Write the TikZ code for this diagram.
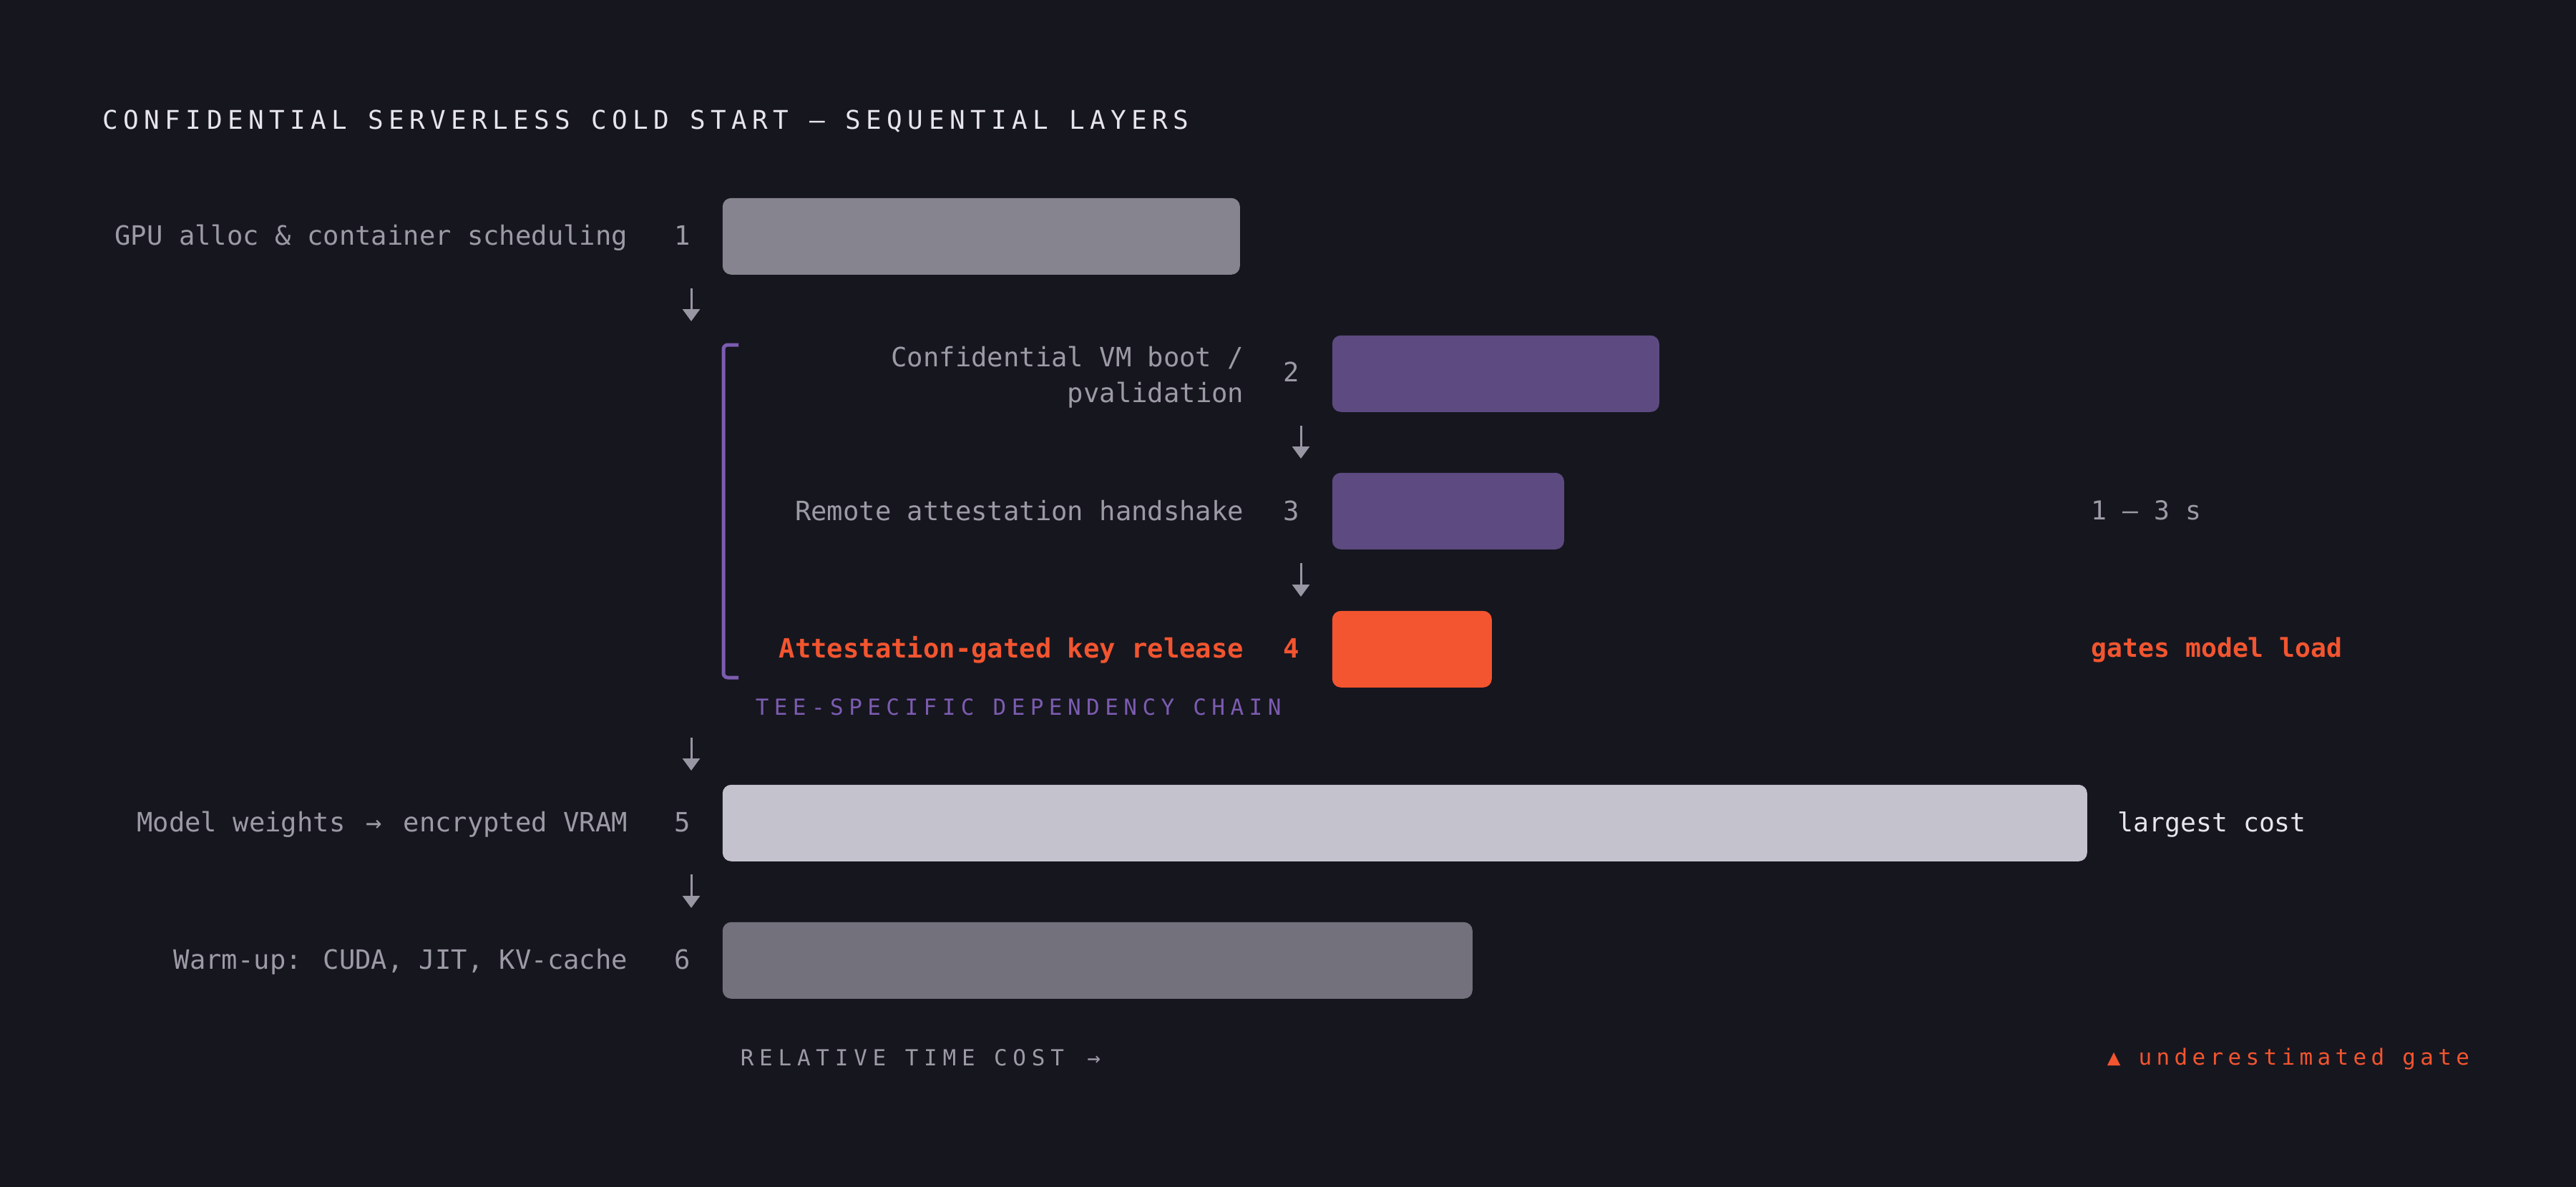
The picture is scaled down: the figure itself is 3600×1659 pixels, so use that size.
\documentclass[tikz,border=0pt]{standalone}
\usepackage{fontspec}
\setmainfont{DejaVu Sans Mono}
\setmonofont{DejaVu Sans Mono}
\newfontfamily\titlefont[LetterSpace=20.5]{DejaVu Sans Mono}
\newfontfamily\capsfont[LetterSpace=24]{DejaVu Sans Mono}
\newfontfamily\axisfont[LetterSpace=25]{DejaVu Sans Mono}
\newfontfamily\notefont[LetterSpace=20.5]{DejaVu Sans Mono}
\usetikzlibrary{arrows.meta}
\definecolor{bgc}{HTML}{16161F}
\definecolor{labelc}{HTML}{9C9AA5}
\definecolor{titlec}{HTML}{E6E4EC}
\definecolor{lightc}{HTML}{E6E4EC}
\definecolor{purpc}{HTML}{7C5CB0}
\definecolor{orangec}{HTML}{F2552F}
\definecolor{barone}{HTML}{86848F}
\definecolor{bartee}{HTML}{5C4A80}
\definecolor{barfive}{HTML}{C4C2CD}
\definecolor{barsix}{HTML}{73717C}
\definecolor{arrowc}{HTML}{9896A2}
\tikzset{
  bar/.style={draw=none, rounded corners=3pt, minimum height=26.75pt, inner sep=0pt, anchor=north west},
  lbl/.style={inner sep=0pt, anchor=base east, text=labelc, font=\fontsize{9.3pt}{12.5pt}\selectfont},
  num/.style={inner sep=0pt, anchor=base, text=labelc, font=\fontsize{9.3pt}{12.5pt}\selectfont},
  side/.style={inner sep=0pt, anchor=base west, font=\fontsize{9.1pt}{12pt}\selectfont},
  flow/.style={draw=arrowc, line width=0.75pt, -{Triangle[width=6pt, length=4.25pt]}},
  bracketline/.style={draw=purpc, line width=1.25pt, rounded corners=1.5pt},
}
\begin{document}
\begin{tikzpicture}[x=0.25pt, y=-0.25pt]
\fill[bgc] (0,0) rectangle (3600,1659);

% title
\node[inner sep=0pt, anchor=base west, text=titlec, font=\titlefont\fontsize{9pt}{11pt}\selectfont] (title) at (143,180) {CONFIDENTIAL SERVERLESS COLD START — SEQUENTIAL LAYERS};

% row 1
\node[lbl] (l1) at (878,342) {GPU alloc \& container scheduling};
\node[num] (n1) at (954,342) {1};
\node[bar, fill=barone, minimum width=180.75pt] (b1) at (1009,276) {};

% row 2
\node[lbl, align=right, anchor=east] (l2) at (1739,527) {Confidential VM boot /\\pvalidation};
\node[num] (n2) at (1805,533) {2};
\node[bar, fill=bartee, minimum width=114.25pt] (b2) at (1861,468) {};

% row 3
\node[lbl] (l3) at (1739,727) {Remote attestation handshake};
\node[num] (n3) at (1805,727) {3};
\node[bar, fill=bartee, minimum width=81pt] (b3) at (1861,660) {};

% row 4
\node[lbl, text=orangec, font=\bfseries\fontsize{9.3pt}{12.5pt}\selectfont] (l4) at (1739,919) {Attestation-gated key release};
\node[num, text=orangec, font=\bfseries\fontsize{9.3pt}{12.5pt}\selectfont] (n4) at (1805,919) {4};
\node[bar, fill=orangec, minimum width=55.75pt] (b4) at (1861,853) {};

% row 5
\node[lbl] (l5) at (878,1162) {Model weights \hspace{1.75pt}→\hspace{1.75pt} encrypted VRAM};
\node[num] (n5) at (954,1162) {5};
\node[bar, fill=barfive, minimum width=476.75pt] (b5) at (1009,1096) {};

% row 6
\node[lbl] (l6) at (878,1354) {Warm-up: CUDA, JIT, KV-cache};
\node[num] (n6) at (954,1354) {6};
\node[bar, fill=barsix, minimum width=262pt] (b6) at (1009,1288) {};

% bracket
\draw[bracketline] (1032,482) -- (1011,482) -- (1011,947) -- (1032,947);
\node[inner sep=0pt, anchor=base west, text=purpc, font=\capsfont\fontsize{7.75pt}{10pt}\selectfont] (tee) at (1055,999) {TEE-SPECIFIC DEPENDENCY CHAIN};

% flow arrows
\coordinate (a1s) at (966,403); \coordinate (a1e) at (966,449);
\coordinate (a2s) at (1818,595); \coordinate (a2e) at (1818,641);
\coordinate (a3s) at (1818,787); \coordinate (a3e) at (1818,834);
\coordinate (a4s) at (966,1031); \coordinate (a4e) at (966,1077);
\coordinate (a5s) at (966,1222); \coordinate (a5e) at (966,1269);
\draw[flow] (a1s) -- (a1e);
\draw[flow] (a2s) -- (a2e);
\draw[flow] (a3s) -- (a3e);
\draw[flow] (a4s) -- (a4e);
\draw[flow] (a5s) -- (a5e);

% right side notes
\node[side, text=labelc] (r3) at (2922,726) {1 – 3 s};
\node[side, text=orangec, font=\bfseries\fontsize{9.1pt}{12pt}\selectfont] (r4) at (2922,918) {gates model load};
\node[side, text=lightc] (r5) at (2959,1162) {largest cost};

% footer
\node[inner sep=0pt, anchor=base west, text=labelc, font=\axisfont\fontsize{7.75pt}{10pt}\selectfont] (axis) at (1034,1489) {RELATIVE TIME COST \hspace{1.5pt}→};
\node[inner sep=0pt, anchor=base west, text=orangec, font=\notefont\fontsize{7.75pt}{10pt}\selectfont] (note) at (2944,1488) {▲ underestimated gate};
\end{tikzpicture}
\end{document}
